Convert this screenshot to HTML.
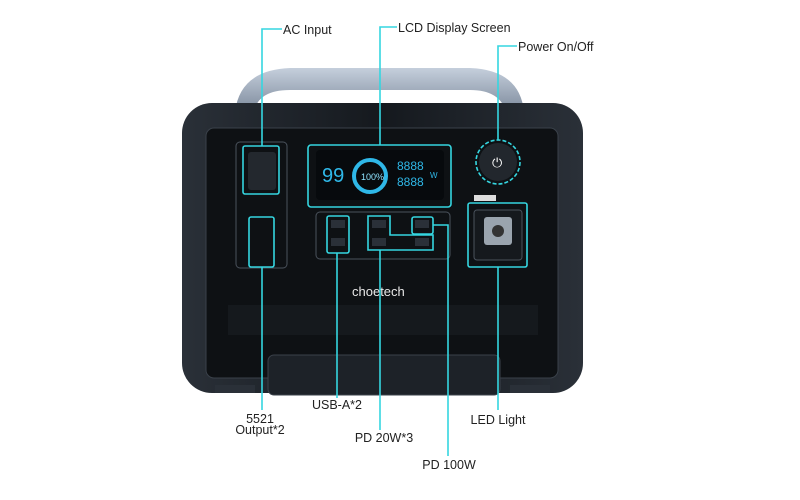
<!DOCTYPE html>
<html><head><meta charset="utf-8"><style>
body{margin:0;background:#fff;}
svg{display:block;}
text{font-family:"Liberation Sans",sans-serif;font-size:12.5px;fill:#222;}
</style></head><body>
<svg width="800" height="500" viewBox="0 0 800 500" xmlns="http://www.w3.org/2000/svg">
<defs>
<linearGradient id="hg" x1="0" y1="0" x2="0" y2="1"><stop offset="0" stop-color="#c5cfdc"/><stop offset="1" stop-color="#7d8a9c"/></linearGradient>
<linearGradient id="bg" x1="0" y1="0" x2="1" y2="0"><stop offset="0" stop-color="#2a3038"/><stop offset="0.5" stop-color="#15191e"/><stop offset="1" stop-color="#2a3038"/></linearGradient>
</defs>
<!-- handle -->
<path d="M235 112 Q240 70 290 68 L470 68 Q520 70 524 112 L506 112 Q500 90 470 90 L290 90 Q258 90 254 112 Z" fill="url(#hg)"/>
<!-- body -->
<rect x="182" y="103" width="401" height="290" rx="30" fill="url(#bg)"/>
<rect x="206" y="128" width="352" height="250" rx="8" fill="#0e1114" stroke="#3a414a"/>
<rect x="228" y="305" width="310" height="30" fill="#15191d"/>
<rect x="268" y="355" width="232" height="40" rx="6" fill="#1d2228" stroke="#3a414a"/>
<rect x="215" y="385" width="40" height="8" fill="#2a3038"/>
<rect x="510" y="385" width="40" height="8" fill="#2a3038"/>
<!-- left panel -->
<rect x="236" y="142" width="51" height="126" rx="4" fill="none" stroke="#4a525c"/>
<rect x="248" y="152" width="28" height="38" rx="3" fill="#23282e"/>
<!-- LCD -->
<rect x="316" y="150" width="128" height="50" rx="4" fill="#070a0d"/>
<text x="322" y="182" style="font-size:20px;fill:#2fb8e8">99</text>
<circle cx="370" cy="176" r="16" fill="none" stroke="#2fb8e8" stroke-width="4"/>
<text x="361" y="180" style="font-size:9px;fill:#8fe3ff">100%</text>
<text x="397" y="170" style="font-size:12px;fill:#2fb8e8">8888</text>
<text x="397" y="186" style="font-size:12px;fill:#2fb8e8">8888</text>
<text x="430" y="178" style="font-size:8px;fill:#2fb8e8">W</text>
<!-- ports panel -->
<rect x="316" y="212" width="134" height="47" rx="4" fill="none" stroke="#4a525c"/>
<rect x="331" y="220" width="14" height="8" fill="#2a3038"/><rect x="331" y="238" width="14" height="8" fill="#2a3038"/>
<rect x="372" y="220" width="14" height="8" fill="#2a3038"/><rect x="372" y="238" width="14" height="8" fill="#2a3038"/>
<rect x="415" y="220" width="14" height="8" fill="#2a3038"/><rect x="415" y="238" width="14" height="8" fill="#2a3038"/>
<text x="352" y="296" style="font-size:13px;fill:#e8e8e8">choetech</text>
<!-- power -->
<circle cx="498" cy="162" r="19" fill="#22272d"/>
<text x="492" y="167" style="font-size:13px;fill:#fff">⏻</text>
<rect x="474" y="195" width="22" height="6" fill="#ddd"/>
<!-- light -->
<rect x="474" y="210" width="48" height="50" rx="3" fill="#15191d" stroke="#4a525c"/>
<rect x="484" y="217" width="28" height="28" rx="3" fill="#9aa4ae"/>
<circle cx="498" cy="231" r="6" fill="#333"/>
<!-- highlight boxes -->
<g fill="none" stroke="#35d6e0" stroke-width="1.6">
<rect x="243" y="146" width="36" height="48" rx="2"/>
<rect x="249" y="217" width="25" height="50" rx="2"/>
<rect x="308" y="145" width="143" height="62" rx="3"/>
<circle cx="498" cy="162" r="22" stroke-dasharray="4 2"/>
<rect x="327" y="216" width="22" height="37" rx="2"/>
<path d="M368 216 H390 V235 H433 V250 H368 Z"/>
<rect x="412" y="217" width="21" height="17" rx="2"/>
<rect x="468" y="203" width="59" height="64" rx="2"/>
<!-- leader lines -->
<path d="M262 146 V29 H282"/>
<path d="M380 145 V27 H397"/>
<path d="M498 140 V46 H517"/>
<path d="M262 267 V410"/>
<path d="M337 253 V398"/>
<path d="M380 250 V430"/>
<path d="M433 225 H448 V456"/>
<path d="M498 267 V410"/>
</g>
<text x="283" y="34">AC Input</text>
<text x="398" y="32">LCD Display Screen</text>
<text x="518" y="51">Power On/Off</text>
<text x="260" y="423" text-anchor="middle">5521</text>
<text x="260" y="434" text-anchor="middle">Output*2</text>
<text x="337" y="409" text-anchor="middle">USB-A*2</text>
<text x="384" y="442" text-anchor="middle">PD 20W*3</text>
<text x="449" y="469" text-anchor="middle">PD 100W</text>
<text x="498" y="424" text-anchor="middle">LED Light</text>
</svg>
</body></html>
